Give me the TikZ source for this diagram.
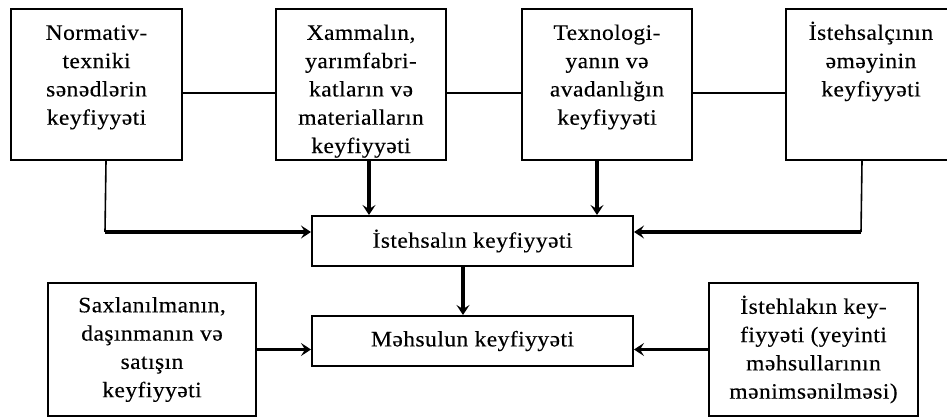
\documentclass[tikz,border=0pt]{standalone}
\usepackage{fontspec}
\setmainfont{Liberation Serif}[FakeStretch=1.07, LetterSpace=2, FakeBold=0.3]
\usetikzlibrary{positioning, arrows.meta}

% text block at the top of a fixed-size box
\newcommand{\boxtext}[3]{\parbox[c][#2][t]{#1}{\centering\vspace*{11pt}\strut #3}}

\begin{document}
\begin{tikzpicture}[x=1pt, y=-1pt,
    box/.style={draw, line width=2pt, inner sep=0pt, align=center},
    topbox/.style={box, anchor=north west},
    thinline/.style={line width=1.6pt},
    arr/.style={line width=3.2pt, -{Stealth[length=10pt, width=13pt, inset=4pt]}}]

    \fontsize{22}{28.3}\selectfont
    \useasboundingbox (0,0) rectangle (947,417);

    % --- top row ---
    \node[topbox] (norm) at (10,8)  {\boxtext{171pt}{151pt}{Normativ-\\texniki\\sənədlərin\\keyfiyyəti}};
    \node[topbox] (xam)  at (275,8) {\boxtext{170pt}{151pt}{Xammalın,\\yarımfabri-\\katların və\\materialların\\keyfiyyəti}};
    \node[topbox] (texn) at (521,8) {\boxtext{170pt}{151pt}{Texnologi-\\yanın və\\avadanlığın\\keyfiyyəti}};
    \node[topbox] (emek) at (785,8) {\boxtext{170pt}{151pt}{İstehsalçının\\əməyinin\\keyfiyyəti}};

    \draw[thinline] ([yshift=-8.5pt]norm.east) -- ([yshift=-8.5pt]xam.west);
    \draw[thinline] ([yshift=-8.5pt]xam.east) -- ([yshift=-8.5pt]texn.west);
    \draw[thinline] ([yshift=-8.5pt]texn.east) -- ([yshift=-8.5pt]emek.west);

    % --- middle ---
    \node[box, minimum width=321pt, minimum height=50pt] (ist) at (472.5,241) {İstehsalın keyfiyyəti};
    \node[box, minimum width=321pt, minimum height=50pt] (mehs) at (472.5,341) {Məhsulun keyfiyyəti};

    \coordinate (jl) at (105,232);
    \coordinate (jr) at (861,232);
    \draw[thinline] ([xshift=9.5pt]norm.south) -- (jl);
    \draw[arr] (jl) -- (jl -| ist.west);
    \draw[thinline] ([xshift=-9pt]emek.south) -- (jr);
    \draw[arr] (jr) -- (jr -| ist.east);
    \draw[arr] ([xshift=8pt]xam.south) -- ([xshift=8pt]xam.south |- ist.north);
    \draw[arr] ([xshift=-10pt]texn.south) -- ([xshift=-10pt]texn.south |- ist.north);
    \draw[arr] ([xshift=-9.5pt]ist.south) -- ([xshift=-9.5pt]mehs.north);

    % --- bottom row ---
    \node[box, minimum width=208pt, minimum height=133pt] (sax) at (152,349.5) {Saxlanılmanın,\\daşınmanın və\\satışın\\keyfiyyəti};
    \node[box, minimum width=209pt, minimum height=133pt] (istl) at (813.5,349.5) {İstehlakın key-\\fiyyəti (yeyinti\\məhsullarının\\mənimsənilməsi)};

    \draw[arr] (sax.east) -- (sax.east -| mehs.west);
    \draw[arr] (istl.west) -- (istl.west -| mehs.east);

\end{tikzpicture}
\end{document}
